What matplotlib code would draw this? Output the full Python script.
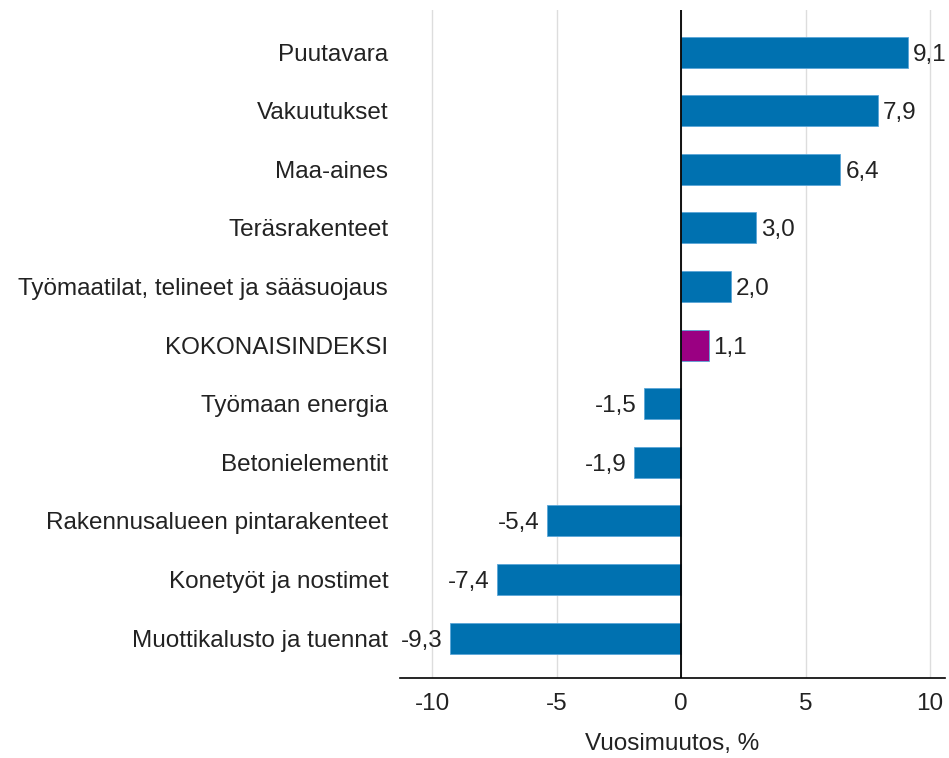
import matplotlib
matplotlib.use("Agg")
import matplotlib.pyplot as plt

categories = ["Puutavara", "Vakuutukset", "Maa-aines", "Teräsrakenteet",
              "Työmaatilat, telineet ja sääsuojaus", "KOKONAISINDEKSI",
              "Työmaan energia", "Betonielementit", "Rakennusalueen pintarakenteet",
              "Konetyöt ja nostimet", "Muottikalusto ja tuennat"]
values = [9.1, 7.9, 6.4, 3.0, 2.0, 1.1, -1.5, -1.9, -5.4, -7.4, -9.3]
xticks = [-10, -5, 0, 5, 10]

FS = 17.5
plt.rcParams['font.family'] = ['Liberation Sans', 'DejaVu Sans']
fig = plt.figure(figsize=(9.49, 7.58), dpi=100)
ax = fig.add_axes([0.4215, 0.1055, 0.5743, 0.8815])

colors = ["#9A0082" if c == "KOKONAISINDEKSI" else "#0071B0" for c in categories]
pos = list(range(len(categories)))
ax.barh(pos, values, height=0.53, color=colors, edgecolor="#5AA6D8", linewidth=0.6, zorder=3)
ax.set_ylim(10.68, -0.72)
ax.set_xlim(-11.3, 10.6)
ax.set_yticks(pos)
ax.set_yticklabels(categories, fontsize=FS)
ax.set_xticks(xticks)
ax.set_xticklabels([str(t) for t in xticks], fontsize=FS)
ax.tick_params(axis='both', length=0, colors="#222222")
ax.tick_params(axis='x', pad=11)
ax.tick_params(axis='y', pad=8.5)
for s in ["top", "right", "left"]:
    ax.spines[s].set_visible(False)
ax.spines["bottom"].set_linewidth(1.2)
ax.xaxis.grid(True, color="#dddddd", linewidth=1, zorder=0)
ax.axvline(0, color="black", linewidth=1.3, zorder=4)
for p, v in zip(pos, values):
    txt = f"{v:.1f}".replace(".", ",")
    if v >= 0:
        ax.text(v + 0.2, p, txt, va="center_baseline", ha="left", fontsize=FS, color="#222222")
    else:
        ax.text(v - 0.3, p, txt, va="center_baseline", ha="right", fontsize=FS, color="#222222")
ax.set_xlabel("Vuosimuutos, %", fontsize=FS, labelpad=13, color="#222222")
fig.savefig("out.png", dpi=100)
